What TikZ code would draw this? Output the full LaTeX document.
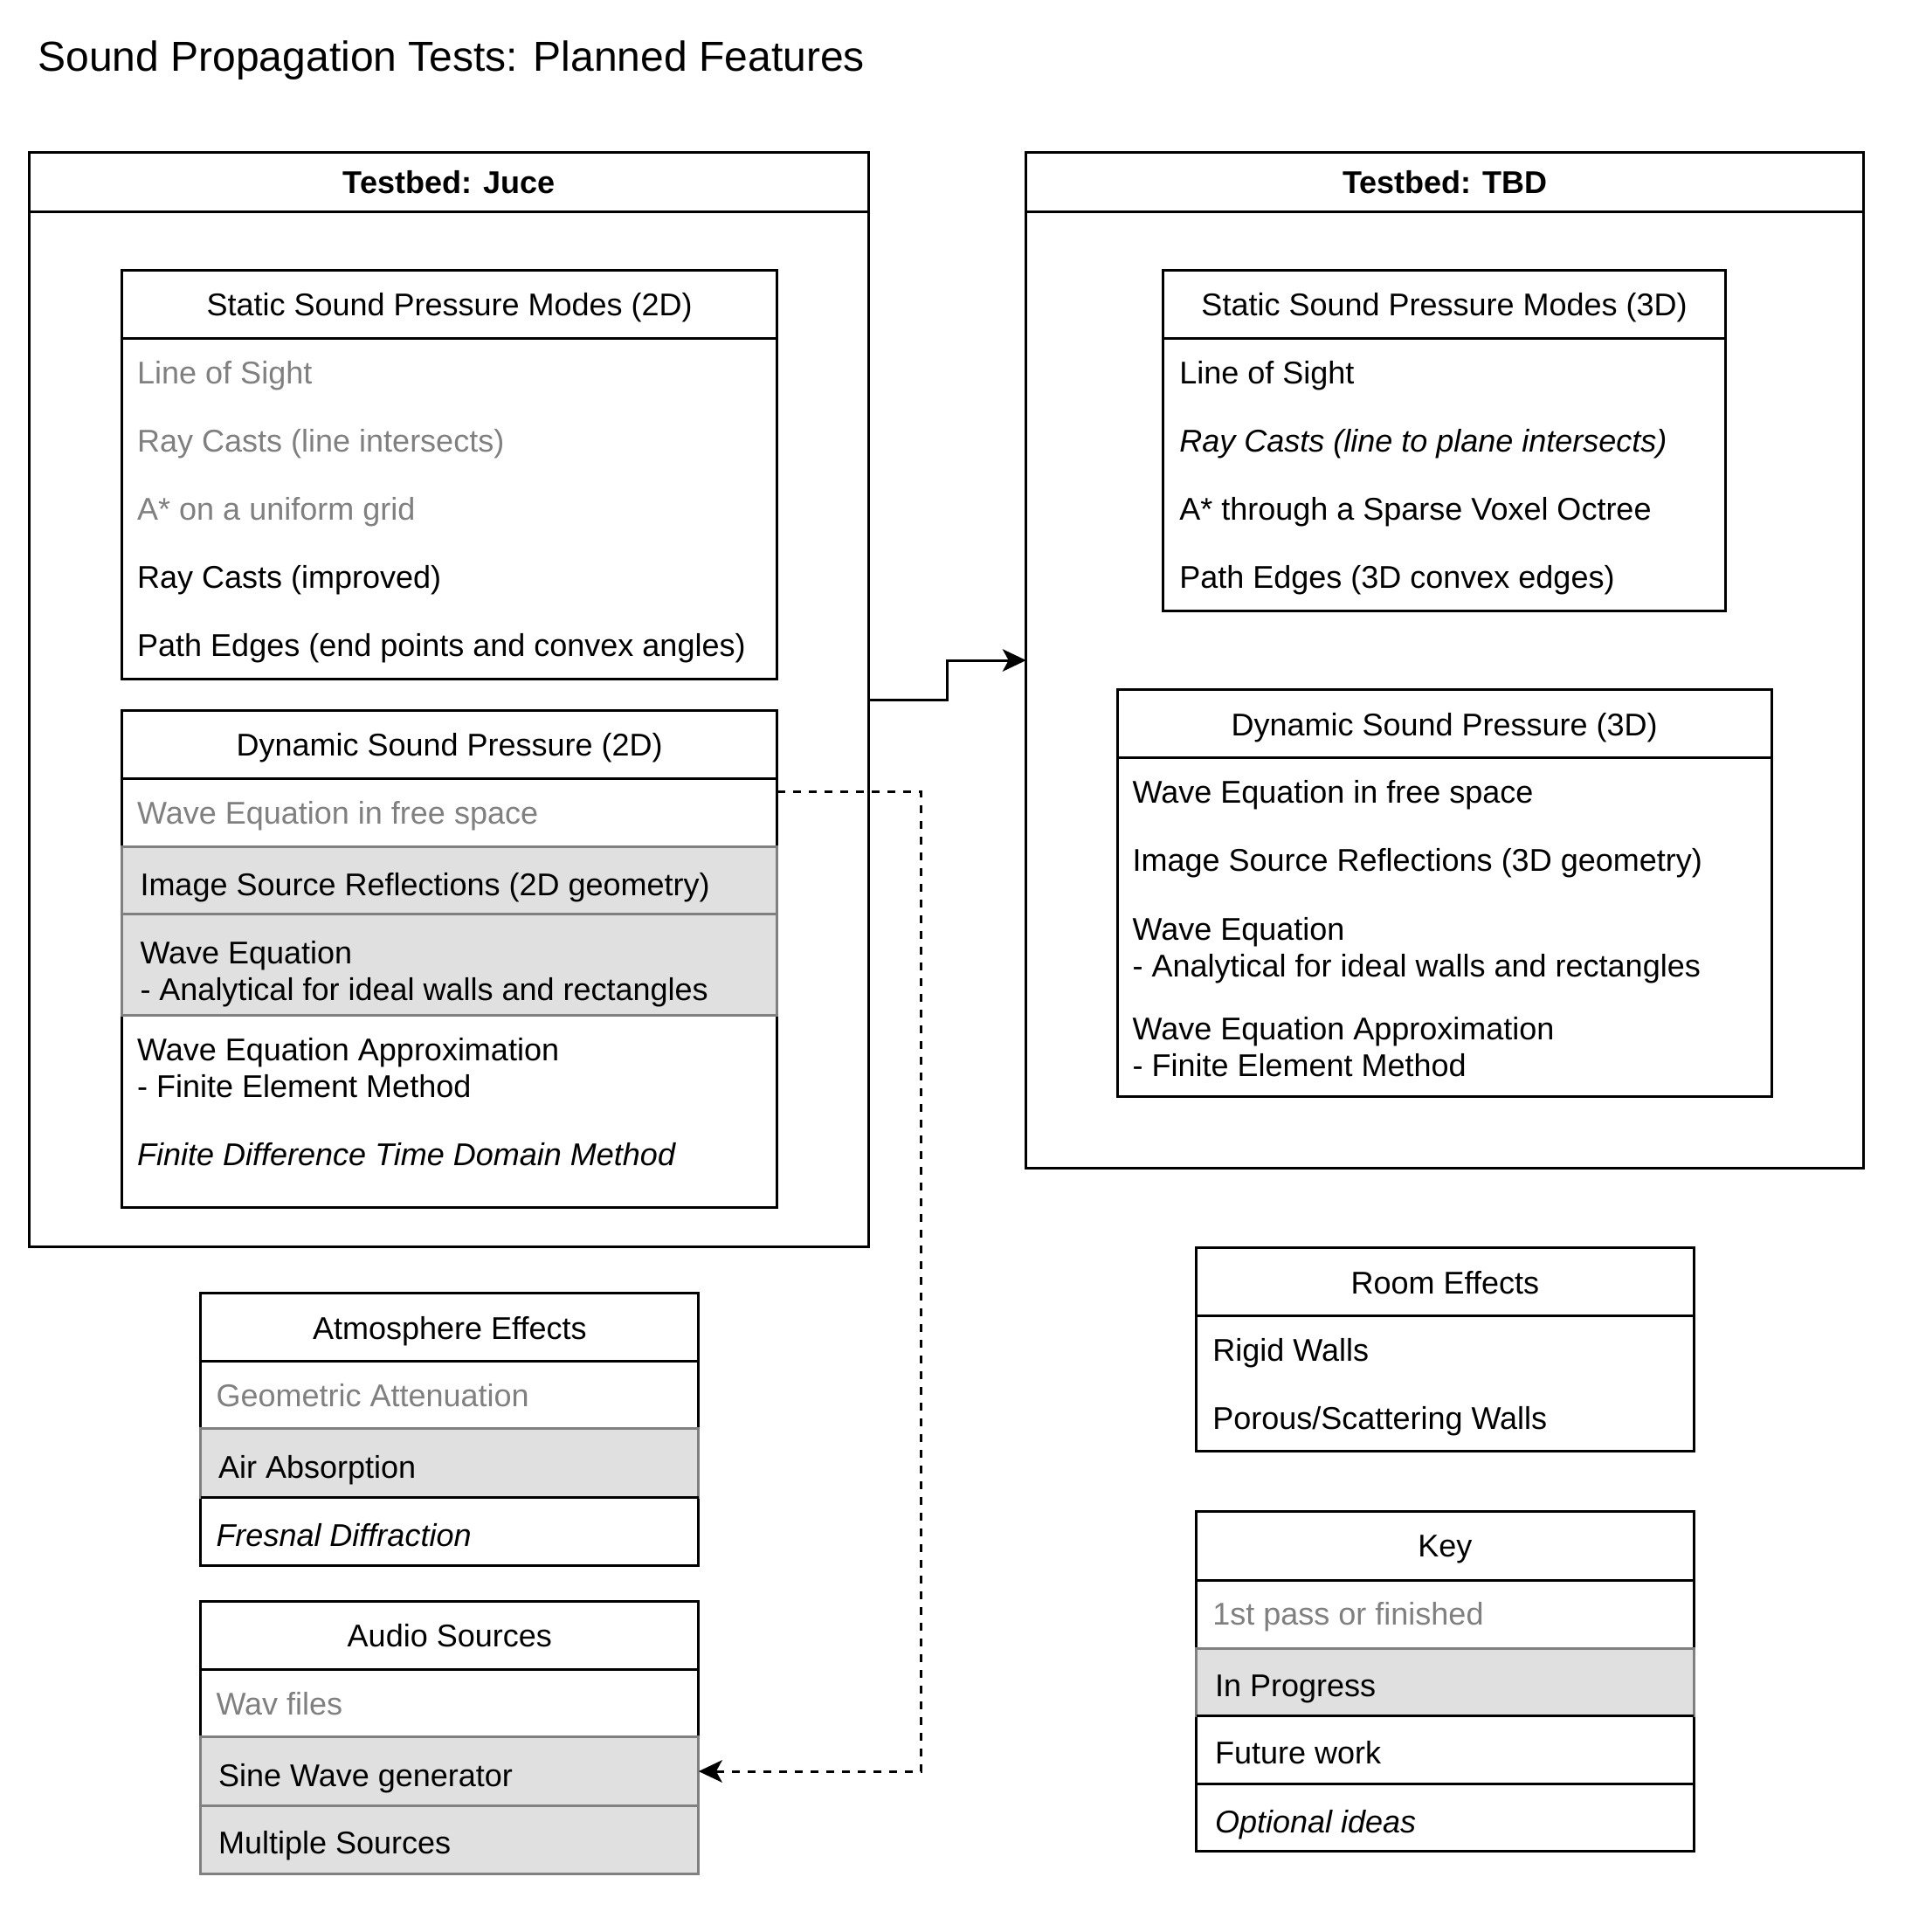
\documentclass[tikz,border=0pt]{standalone}
\usepackage{fontspec}
\setmainfont{Liberation Sans}
\usetikzlibrary{arrows.meta}
\definecolor{donegray}{HTML}{808080}
\definecolor{progfill}{HTML}{E0E0E0}
\definecolor{progline}{HTML}{808080}
\begin{document}
\begin{tikzpicture}[x=1pt,y=-1pt,
  frame/.style={draw=black, line width=1pt, anchor=north west, inner sep=0pt, outer sep=0pt},
  prog/.style={draw=progline, fill=progfill, line width=1pt, anchor=north west, inner sep=0pt, outer sep=0pt},
  sepline/.style={draw=black, line width=1pt},
  txt/.style={anchor=base west, inner sep=0pt, font=\fontsize{12}{14.1}\selectfont},
  hdr/.style={anchor=base, inner sep=0pt, font=\fontsize{12}{14.1}\selectfont},
  bhdr/.style={anchor=base, inner sep=0pt, font=\fontsize{12}{14.1}\selectfont\bfseries},
  done/.style={text=donegray},
  opt/.style={font=\fontsize{12}{14.1}\selectfont\itshape},
  conn/.style={draw=black, line width=1pt, -{Stealth[length=9pt,width=8.5pt,inset=2.3pt]}},
  dashconn/.style={conn, dash pattern=on 3pt off 3pt}
]
\fill[white] (0,0) rectangle (732,737.33);
\useasboundingbox (0,0) rectangle (732,737.33);

% Title
\node[anchor=base west, inner sep=0pt, font=\fontsize{16}{19}\selectfont] (title) at (14.3,27) {Sound Propagation Tests: Planned Features};

% ---------------- Testbed: Juce ----------------
\node[frame, minimum width=320.1pt, minimum height=417.4pt] (juce) at (11.3,58.3) {};
\draw[sepline] (11.3,80.9) -- (331.4,80.9);
\node[bhdr] (juceT) at (171.35,73.9) {Testbed: Juce};

% Static Sound Pressure Modes (2D)
\node[frame, minimum width=250.1pt, minimum height=156.3pt] (s2d) at (46.5,103) {};
\draw[sepline] (46.5,129.3) -- (296.6,129.3);
\node[hdr] (s2dT) at (171.55,120.5) {Static Sound Pressure Modes (2D)};
\node[txt, done] (s2a) at (52.2,146.6) {Line of Sight};
\node[txt, done] (s2b) at (52.2,172.6) {Ray Casts (line intersects)};
\node[txt, done] (s2c) at (52.2,198.6) {A* on a uniform grid};
\node[txt] (s2e) at (52.2,224.6) {Ray Casts (improved)};
\node[txt] (s2f) at (52.2,250.6) {Path Edges (end points and convex angles)};

% Dynamic Sound Pressure (2D)
\node[frame, minimum width=250.1pt, minimum height=189.4pt] (d2d) at (46.5,271.3) {};
\draw[sepline] (46.5,297.1) -- (296.6,297.1);
\node[hdr] (d2dT) at (171.55,288.5) {Dynamic Sound Pressure (2D)};
\node[txt, done] (d2a) at (52.2,314.6) {Wave Equation in free space};
\node[prog, minimum width=250.1pt, minimum height=25.8pt] (d2bBox) at (46.5,323) {};
\node[txt] (d2b) at (53.3,341.8) {Image Source Reflections (2D geometry)};
\node[prog, minimum width=250.1pt, minimum height=38.6pt] (d2cBox) at (46.5,348.8) {};
\node[txt] (d2c1) at (53.3,367.7) {Wave Equation};
\node[txt] (d2c2) at (53.3,381.8) {- Analytical for ideal walls and rectangles};
\node[txt] (d2d1) at (52.2,404.8) {Wave Equation Approximation};
\node[txt] (d2d2) at (52.2,418.9) {- Finite Element Method};
\node[txt, opt] (d2e) at (52.2,444.8) {Finite Difference Time Domain Method};

% ---------------- Testbed: TBD ----------------
\node[frame, minimum width=319.7pt, minimum height=387.4pt] (tbd) at (391.6,58.3) {};
\draw[sepline] (391.6,80.9) -- (711.3,80.9);
\node[bhdr] (tbdT) at (551.45,73.9) {Testbed: TBD};

% Static Sound Pressure Modes (3D)
\node[frame, minimum width=214.8pt, minimum height=130pt] (s3d) at (443.8,103) {};
\draw[sepline] (443.8,129.3) -- (658.6,129.3);
\node[hdr] (s3dT) at (551.2,120.5) {Static Sound Pressure Modes (3D)};
\node[txt] (s3a) at (449.9,146.6) {Line of Sight};
\node[txt, opt] (s3b) at (449.9,172.6) {Ray Casts (line to plane intersects)};
\node[txt] (s3c) at (449.9,198.6) {A* through a Sparse Voxel Octree};
\node[txt] (s3d1) at (449.9,224.6) {Path Edges (3D convex edges)};

% Dynamic Sound Pressure (3D)
\node[frame, minimum width=249.6pt, minimum height=155.1pt] (d3d) at (426.4,263.3) {};
\draw[sepline] (426.4,289.1) -- (676,289.1);
\node[hdr] (d3dT) at (551.2,280.7) {Dynamic Sound Pressure (3D)};
\node[txt] (d3a) at (432,306.6) {Wave Equation in free space};
\node[txt] (d3b) at (432,332.4) {Image Source Reflections (3D geometry)};
\node[txt] (d3c1) at (432,358.8) {Wave Equation};
\node[txt] (d3c2) at (432,372.9) {- Analytical for ideal walls and rectangles};
\node[txt] (d3d1) at (432,396.8) {Wave Equation Approximation};
\node[txt] (d3d2) at (432,410.9) {- Finite Element Method};

% ---------------- Atmosphere Effects ----------------
\node[frame, minimum width=190pt, minimum height=103.9pt] (atm) at (76.6,493.6) {};
\draw[sepline] (76.6,519.5) -- (266.6,519.5);
\node[hdr] (atmT) at (171.6,511.1) {Atmosphere Effects};
\node[txt, done] (atmA) at (82.3,536.9) {Geometric Attenuation};
\node[prog, minimum width=190pt, minimum height=26.3pt] (atmBBox) at (76.6,545.3) {};
\node[txt] (atmB) at (83.2,564.2) {Air Absorption};
\draw[sepline] (76.6,571.6) -- (266.6,571.6);
\node[txt, opt] (atmC) at (82.3,590) {Fresnal Diffraction};

% ---------------- Audio Sources ----------------
\node[frame, minimum width=190pt, minimum height=103.9pt] (aud) at (76.6,611.1) {};
\draw[sepline] (76.6,637) -- (266.6,637);
\node[hdr] (audT) at (171.6,628.6) {Audio Sources};
\node[txt, done] (audA) at (82.3,654.5) {Wav files};
\node[prog, minimum width=190pt, minimum height=26.4pt] (audB) at (76.6,662.8) {};
\node[txt] (audBT) at (83.2,681.7) {Sine Wave generator};
\node[prog, minimum width=190pt, minimum height=25.8pt] (audC) at (76.6,689.2) {};
\node[txt] (audCT) at (83.2,707.6) {Multiple Sources};

% ---------------- Room Effects ----------------
\node[frame, minimum width=189.9pt, minimum height=77.6pt] (room) at (456.5,476.2) {};
\draw[sepline] (456.5,502.1) -- (646.4,502.1);
\node[hdr] (roomT) at (551.45,493.7) {Room Effects};
\node[txt] (roomA) at (462.6,519.5) {Rigid Walls};
\node[txt] (roomB) at (462.6,545.4) {Porous/Scattering Walls};

% ---------------- Key ----------------
\node[frame, minimum width=189.9pt, minimum height=129.8pt] (key) at (456.5,576.8) {};
\draw[sepline] (456.5,603.2) -- (646.4,603.2);
\node[hdr] (keyT) at (551.45,594.3) {Key};
\node[txt, done] (keyA) at (462.6,620.1) {1st pass or finished};
\node[prog, minimum width=189.9pt, minimum height=25.9pt] (keyBBox) at (456.5,629) {};
\node[txt] (keyB) at (463.5,647.4) {In Progress};
\draw[sepline] (456.5,654.9) -- (646.4,654.9);
\node[txt] (keyC) at (463.5,673.3) {Future work};
\draw[sepline] (456.5,680.7) -- (646.4,680.7);
\node[txt, opt] (keyD) at (463.5,699.6) {Optional ideas};

% ---------------- Connectors ----------------
\draw[conn] (juce.east) -- ++(30.1,0) |- (tbd.west);
\coordinate (dstart) at (296.6,302.3);
\draw[dashconn] (dstart) -- ++(55,0) |- (audB.east);
\end{tikzpicture}
\end{document}
